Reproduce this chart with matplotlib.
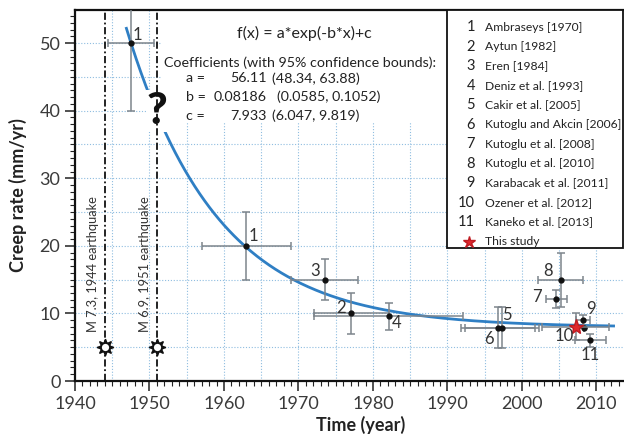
import numpy as np
import matplotlib
matplotlib.use("Agg")
import matplotlib.pyplot as plt
from matplotlib.patches import Rectangle
from matplotlib.ticker import MultipleLocator

plt.rcParams['font.family'] = ['Lato', 'DejaVu Sans']

# Published creep-rate estimates along the fault
point_ids = ['1', '1', '2', '3', '4', '5', '6', '7', '8', '9', '10', '11']
years = [1947.5, 1963.0, 1977.1, 1973.5, 1982.1, 1997.3, 1996.8, 2004.6, 2005.2, 2008.2, 2008.3, 2009.2]
rates = [50.0, 20.0, 10.0, 15.0, 9.6, 7.9, 7.9, 12.1, 14.9, 9.0, 7.9, 6.0]
year_err = [3.1, 6.0, 5.0, 4.5, 10.0, 5.0, 5.0, 1.4, 3.0, 0.9, 0.0, 2.1]
rate_err = [10.0, 5.0, 3.0, 3.0, 2.0, 3.0, 3.0, 1.3, 4.0, 0.8, 0.0, 1.0]
# label offsets in pixels relative to each point
label_dx = [7, 7, -10, -9, 8, 5, -9, -19, -13, 8, -20, 0]
label_dy = [8, 10, 5, 9, -7, 13, -11, 2, 9, 11, -8, -15]

# This study
study_year, study_rate = 2007.2, 8.0
study_year_err, study_rate_err = 4.5, 2.0

# Exponential fit f(x) = a*exp(-b*x)+c, x in years since the 1944 event
a, b, c = 56.11, 0.08186, 7.933
fit_start, fit_end, fit_origin = 1946.9, 2012.3, 1944.0

quake_years = [1944.0, 1951.0]
quake_labels = ['M 7.3, 1944 earthquake', 'M 6.9, 1951 earthquake']

refs = ['Ambraseys [1970]', 'Aytun [1982]', 'Eren [1984]', 'Deniz et al. [1993]',
        'Cakir et al. [2005]', 'Kutoglu and Akcin [2006]', 'Kutoglu et al. [2008]',
        'Kutoglu et al. [2010]', 'Karabacak et al. [2011]', 'Ozener et al. [2012]',
        'Kaneko et al. [2013]']

fig = plt.figure(figsize=(6.24, 4.34), dpi=100)
ax = fig.add_axes([75 / 624, 53 / 434, 549 / 624, 371 / 434])
ax.set_xlim(1940, 2013.7)
ax.set_ylim(0, 54.9)

grid_color = '#8fbde0'
ax.xaxis.set_major_locator(MultipleLocator(10))
ax.xaxis.set_minor_locator(MultipleLocator(1))
ax.yaxis.set_major_locator(MultipleLocator(10))
ax.yaxis.set_minor_locator(MultipleLocator(1))
for v in np.arange(1945, 2014, 5):
    ax.axvline(v, color=grid_color, lw=0.8, ls=(0, (1, 1.6)), zorder=0)
for v in np.arange(5, 55, 5):
    ax.axhline(v, color=grid_color, lw=0.8, ls=(0, (1, 1.6)), zorder=0)

ax.tick_params(axis='both', which='major', direction='out', length=7, width=1.1,
               labelsize=13, labelcolor='#3a3a3a', color='#222')
ax.tick_params(axis='both', which='minor', direction='out', length=3.5, width=0.8, color='#222')
for s in ['left', 'bottom', 'top']:
    ax.spines[s].set_linewidth(1.6)
    ax.spines[s].set_color('#111')
ax.spines['right'].set_visible(False)

ax.set_xlabel('Time (year)', fontsize=13, fontweight='bold', color='#222', labelpad=1)
ax.xaxis.set_label_coords(0.52, -0.095)
ax.set_ylabel('Creep rate (mm/yr)', fontsize=13, fontweight='bold', color='#222', labelpad=9)

# white panel behind the fit summary
ax.add_patch(Rectangle((1951.6, 38.2), 1990 - 1951.6, 20, facecolor='white',
                       edgecolor='none', zorder=1))

# fitted curve
t = np.linspace(fit_start, fit_end, 400)
ax.plot(t, a * np.exp(-b * (t - fit_origin)) + c, color='#2f7fc4', lw=2, zorder=3)

# earthquakes
for qy, ql in zip(quake_years, quake_labels):
    ax.axvline(qy, color='#111', lw=1.3, ls=(0, (4, 1.5, 1, 1.5)), zorder=6)
    ax.plot([qy], [5], marker=(8, 1, 0), ms=12, color='#111', zorder=7)
    ax.plot([qy], [5], marker='o', ms=6.5, mfc='white', mec='#111', mew=1.3, zorder=8)
    ax.text(qy - 1.55, 7.2, ql, rotation=90, ha='center', va='bottom',
            fontsize=9.3, color='#333', zorder=5)

# data with error bars
err_color = '#7d858c'
ax.errorbar(years, rates, xerr=year_err, yerr=rate_err, fmt='o', ms=3.5,
            mfc='#111', mec='#111', ecolor=err_color, elinewidth=1.1,
            capsize=3, capthick=1.1, zorder=4)
for x, y, s, dx, dy in zip(years, rates, point_ids, label_dx, label_dy):
    ax.annotate(s, (x, y), xytext=(dx, dy), textcoords='offset pixels',
                ha='center', va='center', fontsize=12, color='#333', zorder=9)

ax.errorbar([study_year], [study_rate], xerr=[study_year_err], yerr=[study_rate_err],
            fmt='*', ms=11, mfc='#e0282e', mec='#c01c22', ecolor=err_color,
            elinewidth=1.1, capsize=3, capthick=1.1, zorder=5)

# question mark over the gap between the two events
ax.text(1951.0, 39.9, '?', fontsize=32, fontweight='black', ha='center', va='center',
        color='#111', zorder=5,
        bbox=dict(boxstyle='square,pad=0.02', fc='white', ec='none'))

# fit summary
tc = '#222'
fs = 10.3
ax.text(1970.8, 51.4, 'f(x) = a*exp(-b*x)+c', fontsize=11.5, ha='center', va='center',
        color=tc, zorder=6)
ax.text(1951.9, 47.1, 'Coefficients (with 95% confidence bounds):', fontsize=fs,
        ha='left', va='center', color=tc, zorder=6)
coef_names = ['a =', 'b =', 'c =']
coef_vals = ['56.11', '0.08186', '7.933']
coef_bounds = ['(48.34, 63.88)', '(0.0585, 0.1052)', '(6.047, 9.819)']
coef_rows = [44.8, 42.0, 39.2]
bound_x = [1966.4, 1967.1, 1966.4]
for n, v, bd, yy, bx in zip(coef_names, coef_vals, coef_bounds, coef_rows, bound_x):
    ax.text(1954.9, yy, n, fontsize=fs, ha='left', va='center', color=tc, zorder=6)
    ax.text(1965.7, yy, v, fontsize=fs, ha='right', va='center', color=tc, zorder=6)
    ax.text(bx, yy, bd, fontsize=fs, ha='left', va='center', color=tc, zorder=6)

# reference key
ax.add_patch(Rectangle((1989.9, 19.7), 2013.5 - 1989.9, 54.9 - 19.7, facecolor='white',
                       edgecolor='#111', lw=1.3, zorder=10, clip_on=False))
row_y = [(381 - (27 + 19.5 * i)) / 6.76 for i in range(12)]
for i, r in enumerate(refs):
    ax.text(1993.7, row_y[i], str(i + 1), fontsize=10.5, ha='right', va='center',
            color='#222', zorder=11)
    ax.text(1995.1, row_y[i], r, fontsize=8.7, ha='left', va='center',
            color='#222', zorder=11)
ax.plot([1992.9], [row_y[11]], marker='*', ms=9, color='#e0282e', mec='#c01c22',
        zorder=11, clip_on=False)
ax.text(1995.1, row_y[11], 'This study', fontsize=8.7, ha='left', va='center',
        color='#222', zorder=11)

fig.savefig('out.png', dpi=100)
